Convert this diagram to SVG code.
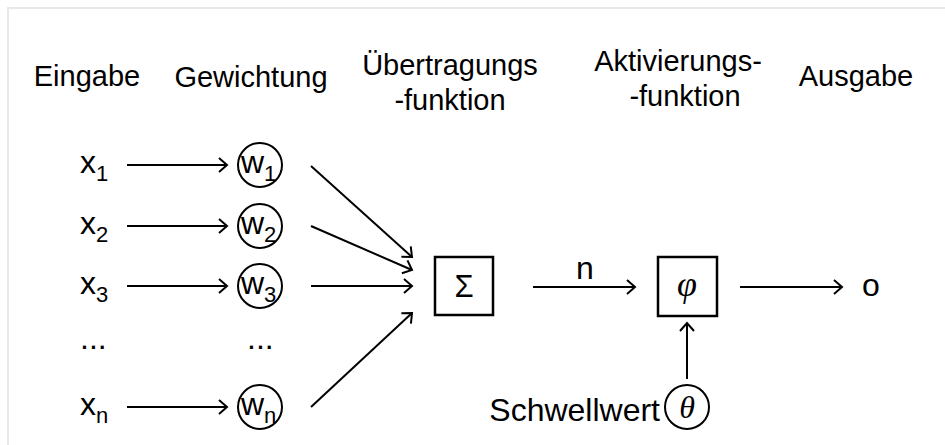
<svg xmlns="http://www.w3.org/2000/svg" width="945" height="445" viewBox="0 0 945 445">
  <defs>
    <marker id="arrow" markerWidth="12" markerHeight="16" refX="10" refY="8" orient="auto" markerUnits="userSpaceOnUse">
      <path d="M2,1 L10,8 L2,15" fill="none" stroke="#000" stroke-width="2"/>
    </marker>
    <style>
      .t { font-family: "Liberation Sans", Arial, sans-serif; font-size: 32px; fill: #000; }
      .h { font-family: "Liberation Sans", Arial, sans-serif; font-size: 29px; fill: #000; text-anchor: middle; }
      .sub { font-family: "Liberation Sans", Arial, sans-serif; font-size: 22px; fill: #000; }
      .m { font-family: "Liberation Serif", "Times New Roman", serif; font-style: italic; fill: #000; text-anchor: middle; }
      .c { text-anchor: middle; }
      .edge { stroke: #000; stroke-width: 2; fill: none; marker-end: url(#arrow); }
      .box { fill: #fff; stroke: #000; stroke-width: 2.5; }
      .ring { fill: #fff; stroke: #000; stroke-width: 2; }
    </style>
  </defs>

  <rect width="945" height="445" fill="#fff"/>
  <!-- page frame -->
  <path d="M7,8 H945 M8,7 V445" stroke="#e8e8e8" stroke-width="2" fill="none"/>

  <!-- column headings -->
  <g id="headings">
    <text class="h" x="87" y="86">Eingabe</text>
    <text class="h" x="251" y="87">Gewichtung</text>
    <text class="h" x="450" y="75">Übertragungs</text>
    <text class="h" x="450" y="110">-funktion</text>
    <text class="h" x="678" y="71">Aktivierungs-</text>
    <text class="h" x="685" y="106">-funktion</text>
    <text class="h" x="856" y="86">Ausgabe</text>
  </g>

  <!-- inputs -->
  <g id="x1"><text class="t" x="80" y="173">x<tspan class="sub" dy="8">1</tspan></text></g>
  <g id="x2"><text class="t" x="80" y="234">x<tspan class="sub" dy="8">2</tspan></text></g>
  <g id="x3"><text class="t" x="80" y="294">x<tspan class="sub" dy="8">3</tspan></text></g>
  <g id="x-dots"><text class="t" x="80" y="349">...</text></g>
  <g id="xn"><text class="t" x="80" y="415">x<tspan class="sub" dy="8">n</tspan></text></g>

  <!-- weights -->
  <g id="w1"><circle class="ring" cx="260" cy="165" r="22"/><text class="t" x="241" y="173">w<tspan class="sub" dy="8">1</tspan></text></g>
  <g id="w2"><circle class="ring" cx="260" cy="226" r="22"/><text class="t" x="241" y="234">w<tspan class="sub" dy="8">2</tspan></text></g>
  <g id="w3"><circle class="ring" cx="260" cy="286" r="22"/><text class="t" x="241" y="294">w<tspan class="sub" dy="8">3</tspan></text></g>
  <g id="w-dots"><text class="t" x="247" y="349">...</text></g>
  <g id="wn"><circle class="ring" cx="260" cy="407" r="22"/><text class="t" x="241" y="415">w<tspan class="sub" dy="8">n</tspan></text></g>

  <!-- transfer function -->
  <g id="sum">
    <rect class="box" x="435" y="257" width="58" height="58"/>
    <text class="t c" x="464" y="297" style="font-size:31px">Σ</text>
  </g>

  <!-- activation function -->
  <g id="act">
    <rect class="box" x="658" y="257" width="59" height="59"/>
    <text class="m" x="687" y="296" style="font-size:36px">φ</text>
  </g>

  <!-- threshold -->
  <g id="threshold">
    <text class="t" x="660" y="421" text-anchor="end">Schwellwert</text>
    <circle class="ring" cx="687" cy="407" r="22"/>
    <text class="m" x="687" y="418" style="font-size:32px">θ</text>
  </g>

  <!-- output -->
  <g id="output"><text class="t" x="862" y="296">o</text></g>

  <!-- connectors -->
  <g id="connectors">
    <line class="edge" x1="127" y1="165" x2="227" y2="165"/>
    <line class="edge" x1="127" y1="226" x2="227" y2="226"/>
    <line class="edge" x1="127" y1="286" x2="227" y2="286"/>
    <line class="edge" x1="127" y1="407" x2="227" y2="407"/>

    <line class="edge" x1="311" y1="166" x2="412" y2="257"/>
    <line class="edge" x1="311" y1="226" x2="412" y2="270"/>
    <line class="edge" x1="311" y1="286" x2="412" y2="286"/>
    <line class="edge" x1="311" y1="407" x2="412" y2="313"/>

    <line class="edge" x1="533" y1="287" x2="635" y2="287"/>
    <text class="t c" x="585" y="279">n</text>
    <line class="edge" x1="740" y1="287" x2="842" y2="287"/>
    <line class="edge" x1="687" y1="379" x2="687" y2="323"/>
  </g>
</svg>
